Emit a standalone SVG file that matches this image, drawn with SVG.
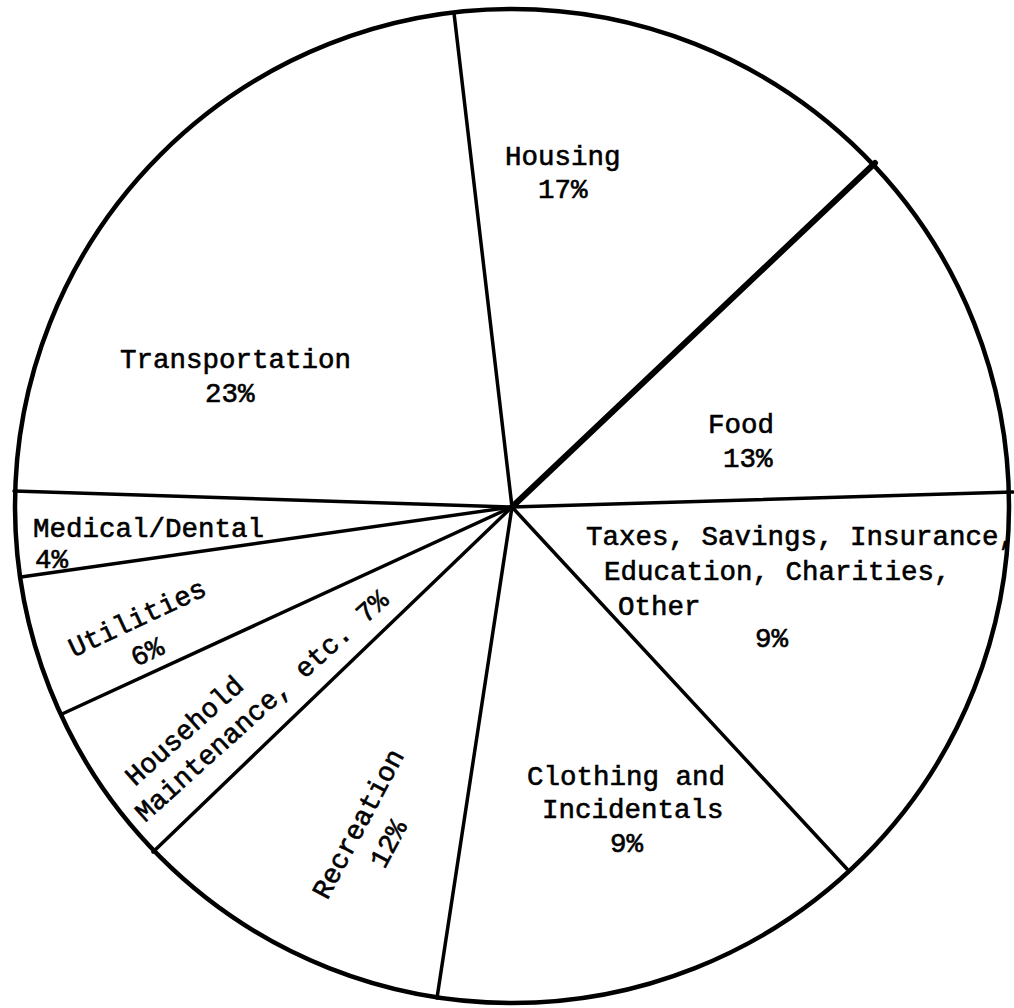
<svg xmlns="http://www.w3.org/2000/svg" width="1014" height="1008" viewBox="0 0 1014 1008">
<style>
.lbl{font-family:"Liberation Mono","Courier New",monospace;font-size:27.5px;fill:#000;stroke:#000;stroke-width:0.6;}
.mid{text-anchor:middle;}
.rad{stroke:#000;stroke-width:3.5;stroke-linecap:round;fill:none;}
.thick{stroke-width:6;}
</style>
<rect width="1014" height="1008" fill="#fff"/>
<circle id="pie-outline" cx="512" cy="506" r="497" fill="none" stroke="#000" stroke-width="4.5"/>
<g id="connectors">
<line class="rad" x1="512" y1="507" x2="454" y2="13"/>
<line class="rad thick" x1="512" y1="507" x2="875" y2="163"/>
<line class="rad" x1="512" y1="507" x2="1013" y2="492"/>
<line class="rad" x1="512" y1="507" x2="847" y2="869"/>
<line class="rad" x1="512" y1="507" x2="437" y2="998"/>
<line class="rad" x1="512" y1="507" x2="153" y2="852"/>
<line class="rad" x1="512" y1="507" x2="62" y2="714"/>
<line class="rad" x1="512" y1="507" x2="21" y2="577"/>
<line class="rad" x1="512" y1="507" x2="14" y2="491"/>
</g>
<g id="transportation">
<text class="lbl" x="120" y="368">Transportation</text>
<text class="lbl" x="205" y="402">23%</text>
</g>
<g id="housing">
<text class="lbl" x="505" y="165">Housing</text>
<text class="lbl" x="538" y="198">17%</text>
</g>
<g id="food">
<text class="lbl" x="708" y="433">Food</text>
<text class="lbl" x="723" y="467">13%</text>
</g>
<g id="taxes">
<text class="lbl" x="586" y="545">Taxes, Savings, Insurance,</text>
<text class="lbl" x="604" y="580">Education, Charities,</text>
<text class="lbl" x="618" y="615">Other</text>
<text class="lbl" x="755" y="647">9%</text>
</g>
<g id="clothing">
<text class="lbl" x="527" y="785">Clothing and</text>
<text class="lbl" x="542" y="818">Incidentals</text>
<text class="lbl" x="610" y="852">9%</text>
</g>
<g id="recreation">
<text class="lbl mid" transform="translate(366,828) rotate(-62)">Recreation</text>
<text class="lbl mid" transform="translate(396,848) rotate(-62)">12%</text>
</g>
<g id="household">
<text class="lbl" transform="translate(135,787) rotate(-42)">Household</text>
<text class="lbl" transform="translate(145,823) rotate(-42)">Maintenance, etc. 7%</text>
</g>
<g id="utilities">
<text class="lbl mid" transform="translate(141,626) rotate(-25)">Utilities</text>
<text class="lbl mid" transform="translate(151,660) rotate(-25)">6%</text>
</g>
<g id="medical">
<text class="lbl" x="33" y="537">Medical/Dental</text>
<text class="lbl" x="35" y="568">4%</text>
</g>
</svg>
